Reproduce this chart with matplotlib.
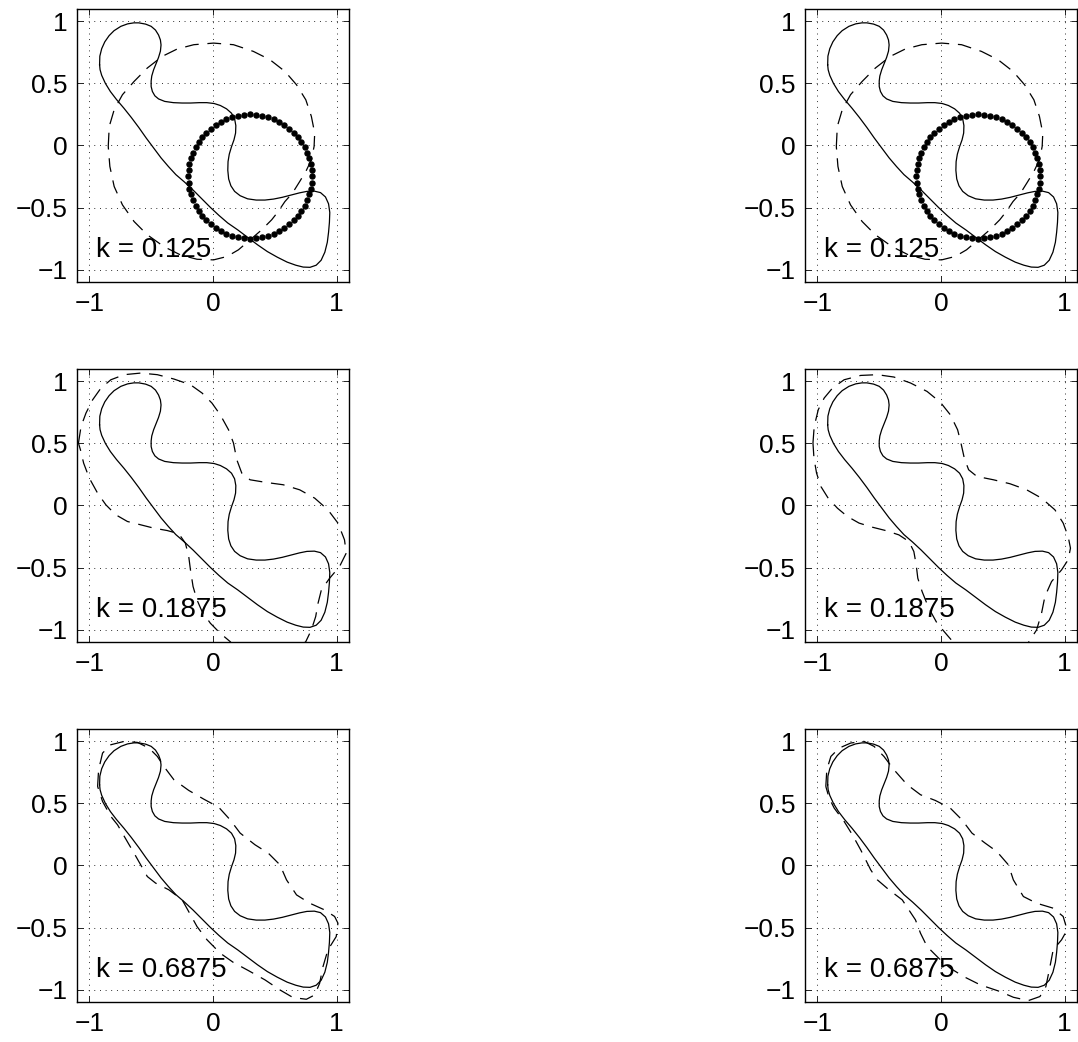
import numpy as np
import matplotlib
matplotlib.use('Agg')
import matplotlib.pyplot as plt

plt.rcParams['font.family'] = ['Liberation Sans', 'DejaVu Sans']

#==============================================================================
# data (data coordinates)
#==============================================================================

# the target shape (same solid curve in every panel)
shape_x = [-0.917, -0.915, -0.90, -0.875, -0.84, -0.80, -0.745, -0.69, -0.64,
           -0.60, -0.545, -0.50, -0.465, -0.44, -0.425, -0.42, -0.425, -0.44,
           -0.46, -0.48, -0.495, -0.50, -0.50, -0.49, -0.47, -0.44, -0.39,
           -0.32, -0.25, -0.18, -0.11, -0.05, 0.01, 0.06, 0.11, 0.15, 0.175,
           0.185, 0.183, 0.17, 0.15, 0.132, 0.122, 0.12, 0.127, 0.145, 0.175,
           0.22, 0.28, 0.35, 0.42, 0.49, 0.56, 0.63, 0.70, 0.76, 0.82, 0.87,
           0.91, 0.935, 0.945, 0.942, 0.935, 0.925, 0.905, 0.875, 0.835, 0.785,
           0.73, 0.67, 0.60, 0.52, 0.44, 0.36, 0.28, 0.20, 0.12, 0.05, -0.02,
           -0.09, -0.16, -0.23, -0.30, -0.36, -0.42, -0.48, -0.54, -0.60, -0.66,
           -0.72, -0.78, -0.83, -0.87, -0.90, -0.913, -0.917]
shape_y = [0.65, 0.72, 0.78, 0.835, 0.885, 0.925, 0.96, 0.98, 0.988, 0.988,
           0.978, 0.96, 0.93, 0.89, 0.85, 0.81, 0.76, 0.71, 0.66, 0.61, 0.56,
           0.52, 0.475, 0.435, 0.40, 0.375, 0.355, 0.345, 0.342, 0.342, 0.345,
           0.345, 0.338, 0.322, 0.295, 0.26, 0.215, 0.16, 0.10, 0.045, -0.01,
           -0.07, -0.13, -0.20, -0.27, -0.325, -0.37, -0.405, -0.43, -0.44,
           -0.44, -0.432, -0.418, -0.40, -0.382, -0.37, -0.368, -0.38, -0.415,
           -0.47, -0.54, -0.62, -0.70, -0.78, -0.86, -0.925, -0.965, -0.982,
           -0.98, -0.965, -0.94, -0.90, -0.855, -0.80, -0.74, -0.68, -0.625,
           -0.565, -0.50, -0.43, -0.36, -0.295, -0.235, -0.17, -0.10, -0.02,
           0.06, 0.145, 0.225, 0.30, 0.37, 0.435, 0.50, 0.565, 0.61, 0.65]

# initial contour (dotted circle), k = 0.125 panels
init_center = (0.30, -0.25)
init_radius = 0.50
init_count = 64

# dashed contours, k = 0.125 (same in both columns)
k1_x = [-0.847, -0.839, -0.799, -0.732, -0.638, -0.531, -0.410, -0.290, -0.155,
        0.005, 0.166, 0.327, 0.461, 0.582, 0.676, 0.751, 0.796, 0.823, 0.818,
        0.796, 0.751, 0.702, 0.643, 0.582, 0.528, 0.475, 0.394, 0.300, 0.206,
        0.113, 0.005, -0.129, -0.263, -0.397, -0.531, -0.638, -0.732, -0.799,
        -0.834, -0.847]
k1_y = [-0.008, 0.153, 0.288, 0.409, 0.516, 0.624, 0.718, 0.777, 0.812, 0.825,
        0.812, 0.758, 0.691, 0.597, 0.489, 0.368, 0.234, 0.099, -0.008, -0.116,
        -0.210, -0.290, -0.384, -0.452, -0.532, -0.599, -0.680, -0.761, -0.841,
        -0.895, -0.922, -0.917, -0.882, -0.815, -0.720, -0.613, -0.479, -0.331,
        -0.169, -0.008]

# dashed contours, k = 0.1875
k2_left_x = [-1.088, -1.067, -1.027, -0.973, -0.906, -0.826, -0.718, -0.584,
             -0.450, -0.316, -0.182, -0.088, -0.008, 0.059, 0.126, 0.166, 0.193,
             0.233, 0.300, 0.434, 0.568, 0.702, 0.823, 0.930, 1.011, 1.064,
             1.078, 1.024, 0.944, 0.877, 0.850, 0.831, 0.796, 0.751, 0.649,
             0.434, 0.220, 0.139, 0.059, -0.021, -0.088, -0.129, -0.161, -0.182,
             -0.196, -0.223, -0.276, -0.370, -0.477, -0.584, -0.692, -0.786,
             -0.866, -0.933, -1.000, -1.046, -1.072, -1.088]
k2_left_y = [0.503, 0.637, 0.745, 0.852, 0.946, 1.013, 1.054, 1.067, 1.054,
             1.019, 0.973, 0.906, 0.825, 0.731, 0.610, 0.503, 0.368, 0.261,
             0.207, 0.185, 0.167, 0.126, 0.059, -0.035, -0.142, -0.277, -0.384,
             -0.492, -0.586, -0.680, -0.788, -0.895, -1.003, -1.097, -1.190,
             -1.245, -1.190, -1.097, -1.030, -0.949, -0.855, -0.761, -0.653,
             -0.519, -0.411, -0.304, -0.228, -0.202, -0.183, -0.156, -0.129,
             -0.075, 0.005, 0.099, 0.220, 0.341, 0.449, 0.503]

k2_right_x = [-1.036, -1.026, -0.993, -0.945, -0.878, -0.784, -0.650, -0.515,
              -0.381, -0.247, -0.113, -0.005, 0.075, 0.134, 0.161, 0.188, 0.223,
              0.290, 0.424, 0.558, 0.693, 0.813, 0.921, 0.988, 1.028, 1.047,
              1.028, 0.975, 0.894, 0.840, 0.813, 0.773, 0.706, 0.585, 0.317,
              0.102, 0.048, -0.032, -0.099, -0.153, -0.188, -0.201, -0.220,
              -0.260, -0.341, -0.448, -0.556, -0.663, -0.757, -0.838, -0.913,
              -0.972, -1.007, -1.028, -1.036]
k2_right_y = [0.503, 0.637, 0.772, 0.866, 0.946, 1.013, 1.048, 1.054, 1.035,
              0.987, 0.919, 0.831, 0.731, 0.610, 0.503, 0.382, 0.288, 0.234,
              0.207, 0.175, 0.126, 0.059, -0.035, -0.142, -0.250, -0.344,
              -0.438, -0.519, -0.613, -0.734, -0.868, -1.003, -1.105, -1.204,
              -1.245, -1.105, -1.043, -0.949, -0.828, -0.694, -0.586, -0.478,
              -0.371, -0.290, -0.237, -0.202, -0.175, -0.142, -0.089, -0.022,
              0.059, 0.153, 0.261, 0.382, 0.503]

# dashed contours, k = 0.6875
k3_left_x = [-0.933, -0.925, -0.893, -0.826, -0.718, -0.611, -0.517, -0.450,
             -0.397, -0.316, -0.196, -0.075, 0.046, 0.139, 0.220, 0.340, 0.448,
             0.542, 0.595, 0.676, 0.783, 0.903, 0.984, 1.011, 0.997, 0.930,
             0.890, 0.863, 0.823, 0.756, 0.649, 0.542, 0.421, 0.287, 0.166,
             0.059, -0.048, -0.129, -0.249, -0.357, -0.464, -0.531, -0.638,
             -0.678, -0.772, -0.826, -0.893, -0.933]
k3_left_y = [0.637, 0.772, 0.906, 0.973, 1.000, 0.992, 0.946, 0.879, 0.798,
             0.691, 0.605, 0.535, 0.470, 0.368, 0.261, 0.167, 0.099, 0.005,
             -0.116, -0.237, -0.304, -0.358, -0.411, -0.465, -0.573, -0.680,
             -0.815, -0.949, -1.043, -1.078, -1.065, -1.003, -0.922, -0.847,
             -0.782, -0.707, -0.599, -0.492, -0.277, -0.196, -0.142, -0.089,
             0.099, 0.167, 0.328, 0.395, 0.516, 0.637]

k3_right_x = [-0.932, -0.924, -0.891, -0.824, -0.730, -0.623, -0.542, -0.462,
              -0.381, -0.274, -0.166, -0.046, 0.075, 0.169, 0.250, 0.357, 0.451,
              0.545, 0.585, 0.666, 0.773, 0.907, 0.988, 1.020, 0.975, 0.907,
              0.881, 0.848, 0.800, 0.706, 0.585, 0.478, 0.317, 0.183, 0.075,
              -0.019, -0.113, -0.166, -0.207, -0.314, -0.421, -0.515, -0.569,
              -0.650, -0.717, -0.784, -0.864, -0.905, -0.932]
k3_right_y = [0.637, 0.772, 0.879, 0.946, 0.987, 1.000, 0.960, 0.879, 0.772,
              0.651, 0.570, 0.524, 0.462, 0.368, 0.261, 0.180, 0.113, 0.005,
              -0.116, -0.250, -0.304, -0.344, -0.411, -0.519, -0.599, -0.680,
              -0.815, -0.976, -1.056, -1.089, -1.062, -1.016, -0.962, -0.895,
              -0.828, -0.747, -0.653, -0.546, -0.438, -0.277, -0.196, -0.116,
              -0.035, 0.126, 0.247, 0.355, 0.462, 0.543, 0.637]

k_labels = ['k = 0.125', 'k = 0.1875', 'k = 0.6875']

xtick_vals = [-1, 0, 1]
xtick_text = ['\u22121', '0', '1']
ytick_vals = [-1, -0.5, 0, 0.5, 1]
ytick_text = ['\u22121', '\u22120.5', '0', '0.5', '1']

#==============================================================================
# plot settings
#==============================================================================

solid_style = {'color': 'k', 'linewidth': 0.9, 'linestyle': '-'}
dash_style = {'color': 'k', 'linewidth': 0.9, 'dashes': (11, 7)}
dot_style = {'color': 'k', 'linestyle': 'none', 'marker': 'o',
             'markersize': 3.6}

# axes boxes in figure fraction [left, bottom, width, height]
col_left = [0.0714, 0.7468]
row_bottom = [0.7294, 0.3839, 0.0384]
box_w = 0.2523
box_h = 0.2620

dashed = [
    [(k1_x, k1_y), (k1_x, k1_y)],
    [(k2_left_x, k2_left_y), (k2_right_x, k2_right_y)],
    [(k3_left_x, k3_left_y), (k3_right_x, k3_right_y)],
]

fig = plt.figure(figsize=(10.78, 10.42), dpi=100)

t = np.linspace(0, 2 * np.pi, init_count, endpoint=False)
circ_x = init_center[0] + init_radius * np.cos(t)
circ_y = init_center[1] + init_radius * np.sin(t)

for r in range(3):
    for c in range(2):
        ax = fig.add_axes([col_left[c], row_bottom[r], box_w, box_h])
        ax.set_xlim(-1.1, 1.1)
        ax.set_ylim(-1.1, 1.1)

        ax.plot(shape_x, shape_y, **solid_style)
        dx, dy = dashed[r][c]
        ax.plot(dx, dy, **dash_style)
        if r == 0:
            ax.plot(circ_x, circ_y, **dot_style)

        ax.text(-0.95, -0.895, k_labels[r], fontsize=20, ha='left',
                va='baseline')

        ax.set_xticks(xtick_vals)
        ax.set_xticklabels(xtick_text)
        ax.set_yticks(ytick_vals)
        ax.set_yticklabels(ytick_text)
        ax.tick_params(direction='in', length=4, width=0.6, top=True,
                       right=True, labelsize=19, pad=7)
        ax.grid(True, color='k', linewidth=0.7, linestyle=(0, (0.8, 5)))
        for sp in ax.spines.values():
            sp.set_linewidth(1.0)

fig.savefig('out.png', dpi=100)
